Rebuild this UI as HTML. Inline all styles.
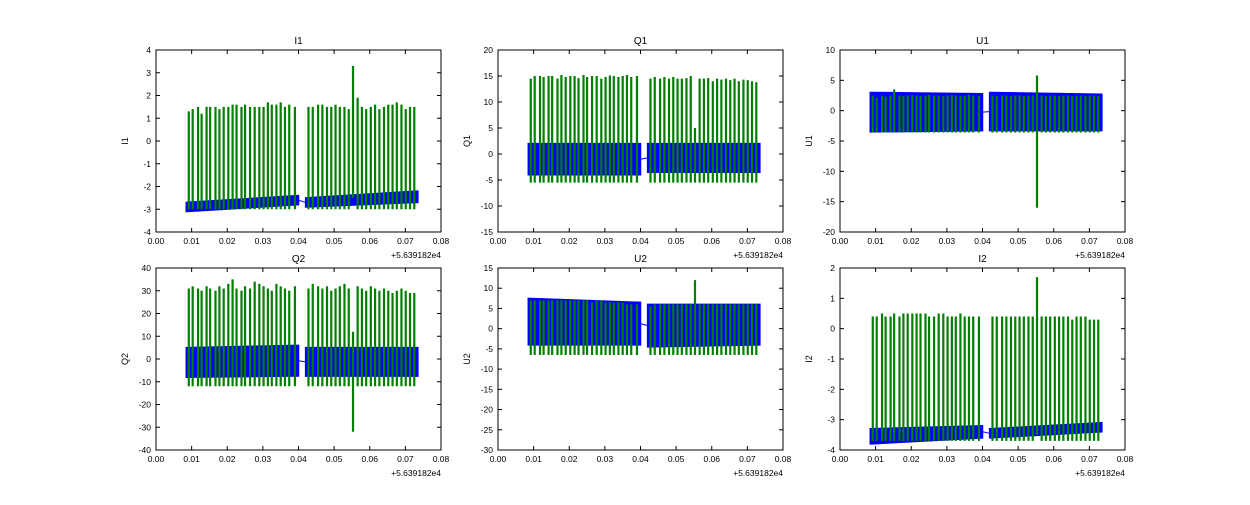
<!DOCTYPE html>
<html><head><meta charset="utf-8"><style>
body{margin:0;background:#fff;width:1250px;height:500px;overflow:hidden}
svg text{font-family:"Liberation Sans",sans-serif;fill:#000}
</style></head><body>
<svg id="fig" width="1250" height="500" xmlns="http://www.w3.org/2000/svg"></svg>
<script>
const xTicks=[0,0.01,0.02,0.03,0.04,0.05,0.06,0.07,0.08];
const xTickLabels=["0.00","0.01","0.02","0.03","0.04","0.05","0.06","0.07","0.08"];
const spikeTimes=[0.0092,0.0103,0.0118,0.0128,0.0142,0.0152,0.0167,0.0178,0.0190,0.0203,0.0215,0.0226,0.0240,0.0250,0.0264,0.0277,0.0290,0.0302,0.0314,0.0325,0.0338,0.0350,0.0362,0.0374,0.0390,
0.0428,0.0440,0.0455,0.0467,0.0480,0.0492,0.0504,0.0516,0.0529,0.0541,0.0553,0.0566,0.0578,0.0590,0.0603,0.0615,0.0627,0.0640,0.0652,0.0664,0.0676,0.0689,0.0701,0.0713,0.0725];
const segStarts=[0.0085,0.0420];
const segEnds=[0.0400,0.0735];
const panelNames=["I1","Q1","U1","Q2","U2","I2"];
const yMins=[-4,-15,-20,-40,-30,-4];
const yMaxs=[4,20,10,40,15,2];
const ySteps=[1,5,5,10,5,1];
// band [lo,hi] at start and end of each segment
const bandLoStart=[[-3.1,-2.9],[-4,-3.5],[-3.5,-3.3],[-8,-7.5],[-4,-4.5],[-3.8,-3.6]];
const bandLoEnd=[[-2.8,-2.7],[-4,-3.5],[-3.3,-3.3],[-7.5,-7.5],[-4,-4],[-3.6,-3.4]];
const bandHiStart=[[-2.7,-2.5],[2,2],[3,3],[5,5],[7.5,6],[-3.3,-3.3]];
const bandHiEnd=[[-2.4,-2.2],[2,2],[2.8,2.7],[6,5],[6.5,6],[-3.2,-3.1]];
const spikeTopsI1=[1.3,1.4,1.5,1.2,1.5,1.5,1.5,1.4,1.5,1.5,1.6,1.6,1.5,1.6,1.5,1.5,1.5,1.5,1.7,1.6,1.6,1.7,1.5,1.6,1.5,1.5,1.5,1.6,1.6,1.5,1.5,1.6,1.5,1.5,1.4,3.3,1.9,1.5,1.4,1.5,1.6,1.4,1.5,1.6,1.6,1.7,1.6,1.4,1.5,1.5];
const spikeTopsQ1=[14.5,15,15,14.8,15,15,14.5,15.2,14.8,15,15,14.6,15.2,14.8,15,15,14.5,14.8,15.1,15,14.8,15,15.2,14.8,15,14.5,14.8,14.5,14.8,14.5,14.8,14.5,14.5,14.6,15,5,14.5,14.5,14.6,14,14.5,14.3,14.5,14.2,14.5,14,14.3,14.2,14,13.8];
const spikeTopsU1=[2.5,2.2,2.5,2.3,2.5,3.5,2.5,2.4,2.5,2.6,2.5,2.4,2.5,2.6,2.5,2.5,2.4,2.5,2.6,2.5,2.4,2.5,2.6,2.5,2.4,2.5,2.4,2.5,2.5,2.4,2.5,2.5,2.4,2.5,2.5,5.8,2.5,2.4,2.5,2.5,2.4,2.5,2.5,2.4,2.5,2.5,2.4,2.5,2.5,2.4];
const spikeTopsQ2=[31,32,31,30,32,31,30,32,31,33,35,31,30,32,31,34,33,32,31,30,33,32,31,30,32,31,33,32,31,32,30,31,32,33,31,12,32,31,30,32,31,30,31,30,29,30,31,30,29,29];
const spikeTopsU2=[7,7,7,7,7,7,7,7,7,7,7,7,7,7,6.5,7,7,6.5,6.5,6.5,6.5,6.5,6,6,6,5.5,6,6,6,6,6,6,6,6,6,12,6,6,6,6,6,6,6,6,6,6,6,6,6,6];
const spikeTopsI2=[0.4,0.4,0.5,0.4,0.4,0.5,0.4,0.5,0.5,0.5,0.5,0.5,0.5,0.4,0.4,0.5,0.5,0.4,0.4,0.4,0.5,0.4,0.4,0.4,0.4,0.4,0.4,0.4,0.4,0.4,0.4,0.4,0.4,0.4,0.4,1.7,0.4,0.4,0.4,0.4,0.4,0.4,0.4,0.3,0.4,0.4,0.4,0.3,0.3,0.3];
const spikeTops=[spikeTopsI1,spikeTopsQ1,spikeTopsU1,spikeTopsQ2,spikeTopsU2,spikeTopsI2];
const spikeBottoms=[-3.0,-5.5,-3.6,-12,-6.5,-3.7];
const outlierTimes=[0.0553,0.0556,0.0553,0.0553,0.0556,0.0553];
const outlierLows=[-2.5,-14.5,-16,-32,-29,-3.5];

const NS="http://www.w3.org/2000/svg";
const fig=document.getElementById('fig');
function mk(tag,attrs,parent){const e=document.createElementNS(NS,tag);for(const k in attrs)e.setAttribute(k,attrs[k]);(parent||fig).appendChild(e);return e;}
const colX=[156,498,840],rowY=[50,268],W=285,H=182;
panelNames.forEach((name,p)=>{
  const x0=colX[p%3],y0=rowY[Math.floor(p/3)];
  const g=mk('g',{});
  
  
  const sx=v=>x0+v/0.08*W;
  const sy=v=>y0+H-(v-yMins[p])/(yMaxs[p]-yMins[p])*H;
  const clip=mk('clipPath',{id:'c'+p},g);mk('rect',{x:x0,y:y0,width:W,height:H},clip);
  const d=mk('g',{'clip-path':'url(#c'+p+')'},g);
  // bridge line
  const br=mk('line',{x1:sx(segEnds[0]),y1:sy((bandLoEnd[p][0]+bandHiEnd[p][0])/2),x2:sx(segStarts[1]),y2:sy((bandLoStart[p][1]+bandHiStart[p][1])/2),stroke:'#0000ff','stroke-width':1},d);
  
  // bands
  for(let s=0;s<2;s++){
    const pts=[[sx(segStarts[s]),sy(bandHiStart[p][s])],[sx(segEnds[s]),sy(bandHiEnd[p][s])],[sx(segEnds[s]),sy(bandLoEnd[p][s])],[sx(segStarts[s]),sy(bandLoStart[p][s])]];
    const b=mk('polygon',{points:pts.map(q=>q.join(',')).join(' '),fill:'#0000ff',stroke:'#0000ff','stroke-width':1.5},d);
    
    
  }
  // spikes
  spikeTimes.forEach((t,i)=>{
    const isOut=Math.abs(t-outlierTimes[p])<0.0002;
    const lo=isOut?outlierLows[p]:spikeBottoms[p];
    const l=mk('line',{x1:sx(t),x2:sx(t),y1:sy(spikeTops[p][i]),y2:sy(lo),stroke:'#007f00','stroke-width':2.2},d);
    
    
  });
  mk('rect',{x:x0,y:y0,width:W,height:H,fill:'none',stroke:'#000','stroke-width':1},g);
  // x ticks
  xTicks.forEach((v,i)=>{
    const X=sx(v);
    mk('line',{x1:X,x2:X,y1:y0+H,y2:y0+H-4,stroke:'#000'},g);
    mk('line',{x1:X,x2:X,y1:y0,y2:y0+4,stroke:'#000'},g);
    const t=mk('text',{x:X,y:y0+H+12,'font-size':8.5,'text-anchor':'middle'},g);t.textContent=xTickLabels[i];
    
  });
  for(let v=yMins[p];v<=yMaxs[p]+1e-9;v+=ySteps[p]){
    const Y=sy(v);
    mk('line',{x1:x0,x2:x0+4,y1:Y,y2:Y,stroke:'#000'},g);
    mk('line',{x1:x0+W,x2:x0+W-4,y1:Y,y2:Y,stroke:'#000'},g);
    const t=mk('text',{x:x0-5,y:Y+3,'font-size':8.5,'text-anchor':'end'},g);t.textContent=String(v);
    
  }
  const off=mk('text',{x:x0+W,y:y0+H+26,'font-size':8.5,'text-anchor':'end'},g);off.textContent='+5.639182e4';
  
  const ti=mk('text',{x:x0+W/2,y:y0-6,'font-size':10,'text-anchor':'middle'},g);ti.textContent=name;
  
  const yl=mk('text',{x:0,y:0,'font-size':9,'text-anchor':'middle',transform:'translate('+(x0-28)+','+(y0+H/2)+') rotate(-90)'},g);yl.textContent=name;
  
});
</script>
</body></html>
